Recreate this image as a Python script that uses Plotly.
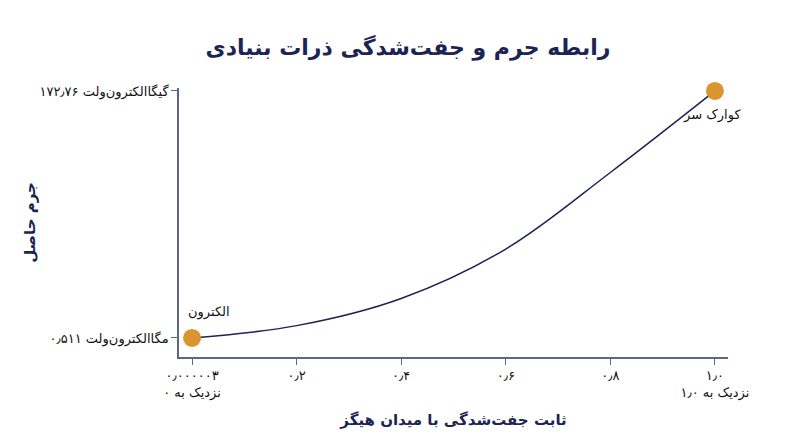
import plotly.graph_objects as go

# coupling to Higgs field vs resulting mass (normalized)
coupling = [0.0, 0.2, 0.4, 0.6, 0.8, 1.0]
mass_rel = [0.0, 0.05, 0.16, 0.36, 0.67, 1.0]
particles = ["الکترون", "کوارک سر"]
x_ticks = [0.0, 0.2, 0.4, 0.6, 0.8, 1.0]
x_labels = ["۰٫۰۰۰۰۰۳<br>نزدیک به ۰", "۰٫۲", "۰٫۴", "۰٫۶", "۰٫۸", "۱٫۰<br>نزدیک به ۱٫۰"]
y_ticks = [0.0, 1.0]
y_labels = ["مگاالکترون‌ولت ۰٫۵۱۱", "گیگاالکترون‌ولت ۱۷۲٫۷۶"]

navy = "#1b2452"
axis_col = "#5b6784"
orange = "#d9952f"
font = "DejaVu Sans"

fig = go.Figure()
fig.add_trace(go.Scatter(
    x=coupling, y=mass_rel, mode="lines",
    line=dict(color=navy, width=1.5, shape="spline"),
    hoverinfo="skip", showlegend=False,
))
fig.add_trace(go.Scatter(
    x=[coupling[0], coupling[-1]], y=[mass_rel[0], mass_rel[-1]],
    mode="markers", marker=dict(color=orange, size=18),
    text=particles, showlegend=False, cliponaxis=False,
))

fig.add_annotation(x=coupling[0], y=mass_rel[0], text=particles[0], showarrow=False,
                   xanchor="left", yanchor="bottom", xshift=-6, yshift=16,
                   font=dict(family=font, size=13, color="#111"))
fig.add_annotation(x=coupling[-1], y=mass_rel[-1], text=particles[1], showarrow=False,
                   xanchor="right", yanchor="top", xshift=28, yshift=-14,
                   font=dict(family=font, size=13, color="#111"))

fig.update_layout(
    width=800, height=447,
    paper_bgcolor="white", plot_bgcolor="white",
    margin=dict(l=171, r=80, t=80, b=98),
    title=dict(text="<b>رابطه جرم و جفت‌شدگی ذرات بنیادی</b>", x=0.5, y=0.93,
               xanchor="center", font=dict(family=font, size=22, color=navy)),
    font=dict(family=font, size=13, color="#111"),
    xaxis=dict(
        range=[-0.025, 1.025], tickvals=x_ticks, ticktext=x_labels,
        showgrid=False, zeroline=False, showline=True, linecolor=axis_col,
        linewidth=1.5, ticks="outside", tickcolor=axis_col, ticklen=6,
        tickfont=dict(family=font, size=13, color="#111"),
        title=dict(text="<b>ثابت جفت‌شدگی با میدان هیگز</b>", standoff=14,
                   font=dict(family=font, size=15, color=navy)),
    ),
    yaxis=dict(
        range=[-0.077, 1.012], tickvals=y_ticks, ticktext=y_labels,
        showgrid=False, zeroline=False, showline=True, linecolor=axis_col,
        linewidth=1.5, ticks="outside", tickcolor=axis_col, ticklen=6,
        tickfont=dict(family=font, size=13, color="#111"),
        title=dict(text="<b>جرم حاصل</b>", standoff=0,
                   font=dict(family=font, size=15, color=navy)),
    ),
)

fig.write_html("out.html")
